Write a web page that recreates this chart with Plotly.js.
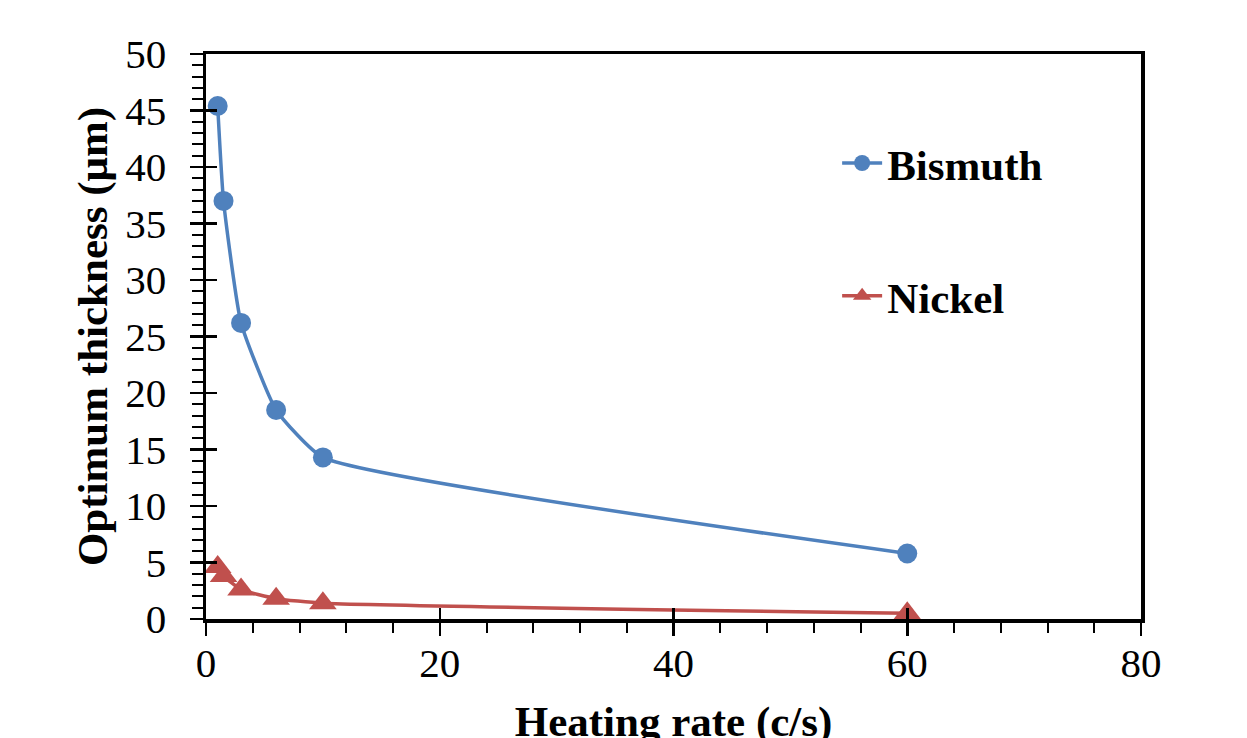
<!DOCTYPE html>
<html>
<head>
<meta charset="utf-8">
<script src="https://cdn.plot.ly/plotly-3.0.1.min.js"></script>
<style>html,body{margin:0;padding:0;background:#fff;overflow:hidden;}#chart{width:1247px;height:760px;}</style>
</head>
<body>
<div id="chart"></div>
<script>
// Data
var heatingRate = [1, 1.5, 3, 6, 10, 60];
var bismuth = [45.4, 37.0, 26.2, 18.5, 14.3, 5.8];
var nickel = [4.6, 3.8, 2.6, 1.8, 1.4, 0.5];
var seriesNames = ["Bismuth", "Nickel"];
var xTitle = "Heating rate (c/s)";
var yTitle = "Optimum thickness (μm)";

var FONT = "Liberation Serif, Times New Roman, serif";

var traces = [
  {
    x: heatingRate, y: bismuth, name: seriesNames[0], type: "scatter", mode: "lines+markers",
    line: {color: "#4F81BD", width: 3.5, shape: "spline", smoothing: 0.45},
    marker: {symbol: "circle", size: 20, color: "#4F81BD"},
    legend: "legend"
  },
  {
    x: heatingRate, y: nickel, name: seriesNames[1], type: "scatter", mode: "lines+markers",
    line: {color: "#C0504D", width: 3.5, shape: "spline", smoothing: 0.45},
    marker: {symbol: "triangle-up", size: 24, color: "#C0504D"},
    legend: "legend2"
  },
  // invisible helper so the overlay axes (inner half of the crossing major ticks) get drawn
  {
    x: heatingRate, y: bismuth, xaxis: "x2", yaxis: "y2", type: "scatter", mode: "markers",
    marker: {opacity: 0, size: 1}, showlegend: false, hoverinfo: "skip"
  }
];

var legendCommon = {
  font: {family: FONT, size: 43, color: "#000", weight: "bold"},
  bgcolor: "rgba(0,0,0,0)", borderwidth: 0,
  xanchor: "left", yanchor: "middle", itemwidth: 40
};

// The page is taller than the 738px window, so the x title is cut at the bottom as in the reference
var layout = {
  width: 1247, height: 760,
  paper_bgcolor: "#fff", plot_bgcolor: "#fff",
  margin: {l: 206, r: 106, t: 54, b: 141, pad: 0},
  showlegend: true,
  legend: Object.assign({}, legendCommon, {x: 0.675, y: 0.807}),
  legend2: Object.assign({}, legendCommon, {x: 0.675, y: 0.572}),
  xaxis: {
    range: [0, 80], dtick: 20, tick0: 0,
    showline: true, linecolor: "#000", linewidth: 3.5, mirror: true,
    showgrid: false, zeroline: false,
    ticks: "outside", ticklen: 13, tickwidth: 2.5, tickcolor: "#000",
    minor: {dtick: 4, ticks: "outside", ticklen: 10, tickwidth: 2, tickcolor: "#000", showgrid: false},
    tickfont: {family: FONT, size: 41, color: "#000"},
    ticklabelstandoff: -8,
    title: {text: xTitle, font: {family: FONT, size: 43, color: "#000", weight: "bold"}, standoff: 22},
    automargin: true, fixedrange: true
  },
  yaxis: {
    range: [0, 50], dtick: 5, tick0: 0,
    showline: true, linecolor: "#000", linewidth: 3.5, mirror: true,
    showgrid: false, zeroline: false,
    ticks: "outside", ticklen: 13, tickwidth: 2.5, tickcolor: "#000",
    minor: {dtick: 1, ticks: "outside", ticklen: 11, tickwidth: 2, tickcolor: "#000", showgrid: false},
    tickfont: {family: FONT, size: 41, color: "#000"},
    ticklabelstandoff: 15,
    title: {text: yTitle, font: {family: FONT, size: 43, color: "#000", weight: "bold"}, standoff: 5},
    automargin: true, fixedrange: true
  },
  xaxis2: {
    overlaying: "x", anchor: "y2", side: "bottom", range: [0, 80], dtick: 20, tick0: 0,
    ticks: "inside", ticklen: 11, tickwidth: 2.5, tickcolor: "#000",
    showticklabels: false, showline: false, showgrid: false, zeroline: false, fixedrange: true
  },
  yaxis2: {
    overlaying: "y", anchor: "x2", side: "left", range: [0, 50], dtick: 5, tick0: 0,
    ticks: "inside", ticklen: 11, tickwidth: 2.5, tickcolor: "#000",
    showticklabels: false, showline: false, showgrid: false, zeroline: false, fixedrange: true
  }
};

Plotly.newPlot("chart", traces, layout, {staticPlot: true, displayModeBar: false});
</script>
</body>
</html>
